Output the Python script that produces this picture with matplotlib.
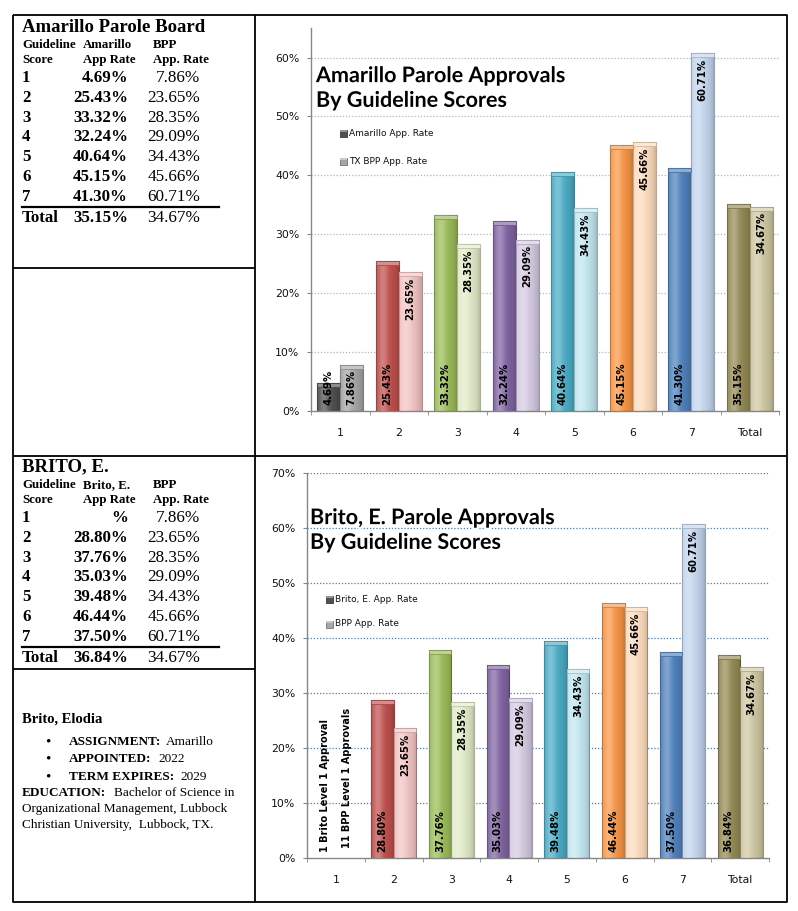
import numpy as np
import matplotlib.pyplot as plt
import matplotlib.colors as mcolors
import matplotlib.patheffects as pe
from matplotlib.patches import Rectangle

W, H = 798, 911

groups = ['1', '2', '3', '4', '5', '6', '7', 'Total']
amarillo_rate = [4.69, 25.43, 33.32, 32.24, 40.64, 45.15, 41.30, 35.15]
bpp_rate = [7.86, 23.65, 28.35, 29.09, 34.43, 45.66, 60.71, 34.67]
brito_rate = [None, 28.80, 37.76, 35.03, 39.48, 46.44, 37.50, 36.84]
brito_bpp_rate = [None, 23.65, 28.35, 29.09, 34.43, 45.66, 60.71, 34.67]

dark_colors = ['#505050', '#c0504d', '#9bbb59', '#8064a2', '#4bacc6', '#f79646', '#4f81bd', '#948a54']
light_colors = ['#a6a6a6', '#f2c4c3', '#e1ebc8', '#d5cbe2', '#c2e6ef', '#fddcbd', '#c3d5ed', '#cfc7a2']

table_scores = ['1', '2', '3', '4', '5', '6', '7']


def fbox(l, t, r, b):
    return [l / W, 1 - b / H, (r - l) / W, (b - t) / H]


def shade(c, f):
    rgb = np.array(mcolors.to_rgb(c))
    if f < 1:
        return tuple(rgb * f)
    return tuple(rgb + (1 - rgb) * (f - 1))


def bars(ax, xs, vals, colors, w, cap):
    for x, v, c in zip(xs, vals, colors):
        if v is None:
            continue
        h = v / 100
        b = ax.bar(x, h, w, color=c, edgecolor=shade(c, 0.75), linewidth=0.8, zorder=2)[0]
        t = np.linspace(0, 1, 60)
        img = np.zeros((1, 60, 4))
        img[..., :3] = 1.0
        img[0, :, 3] = 0.28 * np.exp(-((t - 0.3) / 0.22) ** 2)
        im = ax.imshow(img, extent=(x - w / 2, x + w / 2, 0, h), aspect='auto', zorder=3)
        im.set_clip_path(b)
        dk = np.zeros((1, 60, 4))
        dk[0, :, 3] = 0.18 * t ** 4
        im2 = ax.imshow(dk, extent=(x - w / 2, x + w / 2, 0, h), aspect='auto', zorder=3)
        im2.set_clip_path(b)
        ax.add_patch(Rectangle((x - w / 2, h - cap), w, cap, facecolor=shade(c, 1.35),
                               edgecolor=shade(c, 0.8), linewidth=0.5, zorder=4))


def labels(ax, xs, vals, where):
    for x, v in zip(xs, vals):
        if v is None:
            continue
        txt = '%.2f%%' % v
        if where == 'base':
            ax.annotate(txt, (x, 0), xytext=(0, 4), textcoords='offset points', rotation=90,
                        ha='center', va='bottom', fontsize=7.3, fontweight='bold', zorder=6)
        else:
            ax.annotate(txt, (x, v / 100), xytext=(0, -4), textcoords='offset points', rotation=90,
                        ha='center', va='top', fontsize=7.3, fontweight='bold', zorder=6)


def chart(box, vals1, vals2, ymax, gridcolor, px10):
    ax = fig.add_axes(fbox(*box))
    ax.patch.set_alpha(0)
    x = np.arange(len(groups))
    w = 0.39
    cap = 4 * 0.1 / px10
    bars(ax, x - w / 2, vals1, dark_colors, w, cap)
    bars(ax, x + w / 2, vals2, light_colors, w, cap)
    labels(ax, x - w / 2, vals1, 'base')
    labels(ax, x + w / 2, vals2, 'end')
    ax.set_xlim(-0.5, len(groups) - 0.5)
    ax.set_ylim(0, ymax)
    yt = np.arange(0, ymax + 0.001, 0.1)
    ax.set_yticks(yt)
    ax.set_yticklabels(['%d%%' % round(v * 100) for v in yt])
    ax.set_xticks(x)
    ax.set_xticklabels(groups)
    ax.set_xticks(np.arange(-0.5, len(groups) + 0.5, 1), minor=True)
    for g in yt[1:]:
        ax.axhline(g, color=gridcolor, linestyle=(0, (1, 1.5)), linewidth=0.9, zorder=1)
    for s in ['top', 'right']:
        ax.spines[s].set_visible(False)
    for s in ['left', 'bottom']:
        ax.spines[s].set_color('#868686')
        ax.spines[s].set_linewidth(1.0)
    ax.tick_params(axis='y', length=3, color='#868686', pad=5.5, labelsize=7.8, labelcolor='#111111')
    ax.tick_params(axis='x', which='major', length=0, pad=12, labelsize=7.8, labelcolor='#111111')
    ax.tick_params(axis='x', which='minor', length=3, color='#868686')
    return ax


fig = plt.figure(figsize=(W / 100, H / 100), dpi=100)

ax_top = chart((311, 411 - 0.65 * 589, 779, 411), amarillo_rate, bpp_rate, 0.65, '#aab8cc', 58.9)
ax_bot = chart((307, 473, 769, 858), brito_rate, brito_bpp_rate, 0.70, '#4a7ebb', 55.0)

# notes for score 1 in the lower chart
ax_bot.annotate('1 Brito Level 1 Approval', (0 - 0.195, 0), xytext=(0, 4), textcoords='offset points',
                rotation=90, ha='center', va='bottom', fontsize=7.0, fontweight='bold')
ax_bot.annotate('11 BPP Level 1 Approvals', (0 + 0.195, 0), xytext=(0, 7), textcoords='offset points',
                rotation=90, ha='center', va='bottom', fontsize=7.0, fontweight='bold')

ov = fig.add_axes([0, 0, 1, 1], zorder=10)
ov.set_xlim(0, W)
ov.set_ylim(H, 0)
ov.axis('off')
ov.patch.set_alpha(0)

# frame lines
lk = dict(color='black', linewidth=1.3, solid_capstyle='butt')
ov.plot([13, 787, 787, 13, 13], [15, 15, 902, 902, 15], **lk)
ov.plot([255, 255], [15, 902], **lk)
ov.plot([13, 787], [456, 456], **lk)
ov.plot([13, 255], [268, 268], **lk)
ov.plot([13, 255], [669, 669], **lk)

# chart titles and legends
glow = [pe.withStroke(linewidth=3, foreground='white')]
ov.text(316, 88, 'Amarillo Parole Approvals\nBy Guideline Scores', family='Lato', fontweight='bold',
        fontsize=15.5, va='center', ha='left', linespacing=1.22, path_effects=glow)
ov.text(310, 530, 'Brito, E. Parole Approvals\nBy Guideline Scores', family='Lato', fontweight='bold',
        fontsize=15.5, va='center', ha='left', linespacing=1.22, path_effects=glow)


def legend_item(x, y, c, text):
    ov.add_patch(Rectangle((x - 3.5, y - 3.5), 7, 7, facecolor=c, edgecolor=shade(c, 0.7), linewidth=0.6))
    ov.add_patch(Rectangle((x - 3.5, y - 3.5), 7, 2, facecolor=shade(c, 1.4), edgecolor='none'))
    ov.text(x + 6, y, text, fontsize=6.5, va='center', ha='left', color='#111111')


legend_item(343, 133, '#505050', 'Amarillo App. Rate')
legend_item(343, 161, '#a6a6a6', 'TX BPP App. Rate')
legend_item(329, 599, '#505050', 'Brito, E. App. Rate')
legend_item(329, 624, '#a6a6a6', 'BPP App. Rate')

# left tables
serif = 'Liberation Serif'


def table(top, title, name, vals, bpp, total):
    ov.text(22, top + 12, title, family=serif, fontweight='bold', fontsize=13.5, va='center', ha='left')
    ov.text(22, top + 30, 'Guideline', family=serif, fontweight='bold', fontsize=9.3, va='center')
    ov.text(83, top + 30, name, family=serif, fontweight='bold', fontsize=9.3, va='center')
    ov.text(153, top + 30, 'BPP', family=serif, fontweight='bold', fontsize=9.3, va='center')
    ov.text(22, top + 45, 'Score', family=serif, fontweight='bold', fontsize=9.3, va='center')
    ov.text(83, top + 45, 'App Rate', family=serif, fontweight='bold', fontsize=9.3, va='center')
    ov.text(153, top + 45, 'App. Rate', family=serif, fontweight='bold', fontsize=9.3, va='center')
    ys = top + 63 + np.arange(len(table_scores)) * 19.8
    for y, s, v, b in zip(ys, table_scores, vals, bpp):
        ov.text(22, y, s, family=serif, fontweight='bold', fontsize=12.2, va='center')
        vt = '%' if v is None else '%.2f%%' % v
        ov.text(128, y, vt, family=serif, fontweight='bold', fontsize=12.2, va='center', ha='right')
        ov.text(200, y, '%.2f%%' % b, family=serif, fontsize=12.3, va='center', ha='right')
    ov.plot([22, 219], [top + 191.5, top + 191.5], color='black', linewidth=1.6)
    ov.text(22, top + 203, 'Total', family=serif, fontweight='bold', fontsize=12.2, va='center')
    ov.text(128, top + 203, '%.2f%%' % total[0], family=serif, fontweight='bold', fontsize=12.2,
            va='center', ha='right')
    ov.text(200, top + 203, '%.2f%%' % total[1], family=serif, fontsize=12.3, va='center', ha='right')


table(15, 'Amarillo Parole Board', 'Amarillo', amarillo_rate[:7], bpp_rate[:7], (amarillo_rate[7], bpp_rate[7]))
table(455, 'BRITO, E.', 'Brito, E.', brito_rate[:7], bpp_rate[:7], (brito_rate[7], bpp_rate[7]))

# bio block
ov.text(22, 719, 'Brito, Elodia', family=serif, fontweight='bold', fontsize=10.5, va='center')
bio = [(742, 'ASSIGNMENT:', 166, 'Amarillo'),
       (759, 'APPOINTED:', 158, '2022'),
       (777, 'TERM EXPIRES:', 180, '2029')]
for y, lab, xv, val in bio:
    ov.text(48, y, '\u2022', family=serif, fontsize=11, va='center', ha='center')
    ov.text(69, y, lab, family=serif, fontweight='bold', fontsize=9.5, va='center')
    ov.text(xv, y, val, family=serif, fontsize=9.5, va='center')
ov.text(22, 793, 'EDUCATION:', family=serif, fontweight='bold', fontsize=9.5, va='center')
ov.text(114, 793, 'Bachelor of Science in', family=serif, fontsize=9.5, va='center')
ov.text(22, 809, 'Organizational Management, Lubbock', family=serif, fontsize=9.5, va='center')
ov.text(22, 825, 'Christian University,  Lubbock, TX.', family=serif, fontsize=9.5, va='center')

fig.savefig('out.png', dpi=100)
